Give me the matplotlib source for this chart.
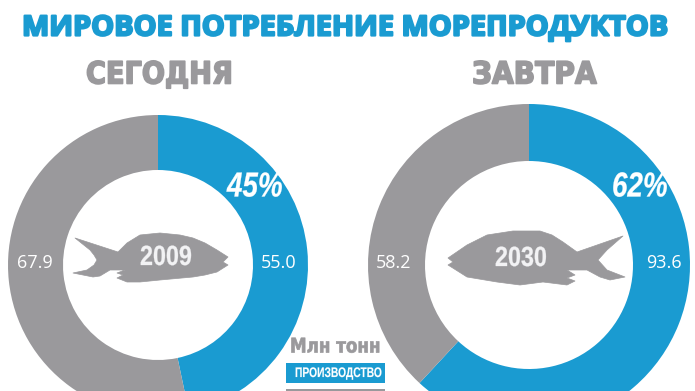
import matplotlib
matplotlib.use('Agg')
import matplotlib.pyplot as plt
import matplotlib.patheffects as pe
from matplotlib.patches import Polygon, Rectangle
from matplotlib.transforms import Affine2D

plt.rcParams['font.family'] = ['Open Sans', 'DejaVu Sans']

BLUE = '#1a9bd1'
GRAY = '#9a999c'
SANS = ['Liberation Sans', 'DejaVu Sans']

# Data
title = 'МИРОВОЕ ПОТРЕБЛЕНИЕ МОРЕПРОДУКТОВ'
headers = ['СЕГОДНЯ', 'ЗАВТРА']
years = ['2009', '2030']
production = [55.0, 93.6]
other = [67.9, 58.2]
share_labels = ['45%', '62%']
# ring split as it is drawn in the picture, percent
drawn_blue = [46.7, 61.9]
drawn_gray = [53.3, 38.1]

# Fish outlines (pixels)
fish_left = [(75, 238), (118, 252), (127, 243), (140, 235), (160, 233), (180, 235), (193, 238), (205, 243),
             (217, 250), (228, 257), (223, 262), (228, 265), (217, 272), (205, 275), (193, 277), (160, 280),
             (140, 282), (127, 282), (117, 278), (123, 275), (117, 273), (125, 270), (110, 270), (100, 276),
             (93, 277), (73, 273), (87, 270), (94, 265), (97, 260), (94, 255), (90, 250)]
fish_right = [(623, 236), (577, 252), (563, 242), (552, 235), (540, 231), (513, 231), (487, 235), (467, 245),
              (448, 258), (453, 262), (448, 265), (467, 277), (497, 282), (520, 285), (543, 282),
              (567, 285), (575, 281), (567, 278), (575, 275), (567, 270), (587, 270), (600, 277), (610, 280),
              (625, 277), (607, 270), (598, 260), (607, 250)]


# Condensed lettering: no narrow font is installed, so scale the glyphs sideways
class Squeeze(pe.AbstractPathEffect):
    def __init__(self, sx, width, color):
        super().__init__()
        self.sx = sx
        self.width = width
        self.color = color

    def draw_path(self, renderer, gc, tpath, affine, rgbFace):
        gc0 = renderer.new_gc()
        gc0.copy_properties(gc)
        gc0.set_linewidth(self.width)
        gc0.set_foreground(self.color)
        gc0.set_joinstyle('round')
        renderer.draw_path(gc0, tpath, Affine2D().scale(self.sx, 1) + affine, rgbFace)
        gc0.restore()


fig = plt.figure(figsize=(6.95, 3.91), dpi=100)
ax = fig.add_axes([0, 0, 1, 1])


def Y(y):
    return 391 - y


def heavy(x, y, s, size, color, sx, w=1.0, **kw):
    t = ax.text(x, Y(y), s, fontsize=size, color=color, fontweight='bold',
                ha='left', va='center', **kw)
    t.set_path_effects([Squeeze(sx, w, color)])
    return t


# Rings
ax.pie([drawn_blue[0], drawn_gray[0]], colors=[BLUE, GRAY], startangle=90, counterclock=False,
       center=(158, Y(265)), radius=150, wedgeprops=dict(width=55, linewidth=0))
ax.pie([drawn_blue[1], drawn_gray[1]], colors=[BLUE, GRAY], startangle=90, counterclock=False,
       center=(529, Y(265)), radius=161, wedgeprops=dict(width=57, linewidth=0))

ax.set_xlim(0, 695)
ax.set_ylim(0, 391)
ax.set_aspect('auto')
ax.axis('off')

heavy(22, 28, title, 20, BLUE, 1.04, 1.6, family='Open Sans')
heavy(86, 75, headers[0], 22, GRAY, 0.89, 1.2, family='DejaVu Sans')
heavy(472, 75, headers[1], 22, GRAY, 0.92, 1.2, family='DejaVu Sans')

for pts in (fish_left, fish_right):
    ax.add_patch(Polygon([(x, Y(y)) for x, y in pts], closed=True, facecolor=GRAY,
                         edgecolor=GRAY, linewidth=0.5, joinstyle='round'))

heavy(140, 258, years[0], 20, '#f2f2f4', 0.84, 0.2, family=SANS)
heavy(495, 259, years[1], 20, '#f2f2f4', 0.84, 0.2, family=SANS)

heavy(227, 187, share_labels[0], 25, 'white', 0.8, 0.2, style='italic', family=SANS)
heavy(612, 187, share_labels[1], 25, 'white', 0.8, 0.2, style='italic', family=SANS)

ax.text(35, Y(263), f'{other[0]:.1f}', color='white', fontsize=13, ha='center', va='center')
ax.text(279, Y(263), f'{production[0]:.1f}', color='white', fontsize=13, ha='center', va='center')
ax.text(394, Y(263), f'{other[1]:.1f}', color='white', fontsize=13, ha='center', va='center')
ax.text(664, Y(263), f'{production[1]:.1f}', color='white', fontsize=13, ha='center', va='center')

# Legend
heavy(290, 347, 'Млн тонн', 14.5, GRAY, 0.83, 0.5, family='DejaVu Sans')
ax.add_patch(Rectangle((286, Y(383)), 99, 20, facecolor=BLUE, edgecolor='none'))
heavy(295, 373, 'ПРОИЗВОДСТВО', 10, 'white', 0.74, 0.1, family=SANS)
ax.add_patch(Rectangle((286, 0), 99, 2, facecolor=GRAY, edgecolor='none'))

fig.savefig('out.png', dpi=100, facecolor='white')
